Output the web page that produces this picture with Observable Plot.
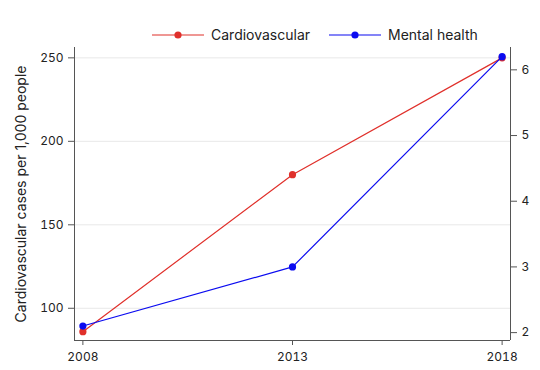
<!DOCTYPE html>
<html>
<head>
<meta charset="utf-8">
<script src="https://cdn.jsdelivr.net/npm/d3@7"></script>
<script src="https://cdn.jsdelivr.net/npm/@observablehq/plot@0.6"></script>
<style>
  html, body { margin: 0; padding: 0; background: white; }
  #wrap { position: relative; width: 540px; height: 370px; font-family: Inter, "DejaVu Sans", sans-serif; }
  #legend { position: absolute; left: 0; top: 0; width: 540px; height: 60px; }
  .item { position: absolute; top: 26px; height: 18px; display: flex; align-items: center; }
  .item span { font-size: 14px; color: #222; margin-left: 7px; line-height: 18px; }
</style>
</head>
<body>
<div id="wrap"><div id="legend"></div></div>
<script>
const years = [2008, 2013, 2018];
const cardio = [86, 180, 250];
const mental = [2.1, 3.0, 6.2];
const leftTicks = [100, 150, 200, 250];
const rightTicks = [2, 3, 4, 5, 6];
const seriesNames = ["Cardiovascular", "Mental health"];
const seriesColors = ["#e0302b", "#0b0bf0"];
const yLabel = "Cardiovascular cases per 1,000 people";

const leftDomain = [80.7, 256.2];
const rightDomain = [1.88, 6.34];
const xDomain = [2007.8, 2018.2];
const k = (leftDomain[1] - leftDomain[0]) / (rightDomain[1] - rightDomain[0]);
const toLeft = r => leftDomain[0] + (r - rightDomain[0]) * k;
const fromLeft = v => rightDomain[0] + (v - leftDomain[0]) / k;

const cardioData = years.map((y, i) => ({year: y, value: cardio[i]}));
const mentalData = years.map((y, i) => ({year: y, value: toLeft(mental[i])}));

const axisColor = "#555";

const chart = Plot.plot({
  width: 540,
  height: 370,
  marginTop: 47,
  marginBottom: 30,
  marginLeft: 74,
  marginRight: 30,
  style: {fontFamily: "Inter, sans-serif", fontSize: "12px", color: "#222", background: "transparent"},
  x: {domain: xDomain},
  y: {domain: leftDomain},
  marks: [
    Plot.gridY(leftTicks, {stroke: "#e8e8e8", strokeOpacity: 1}),
    Plot.ruleY([leftDomain[0]], {stroke: axisColor}),
    Plot.ruleX([xDomain[0]], {stroke: axisColor}),
    Plot.ruleX([xDomain[1]], {stroke: axisColor}),
    Plot.axisX(years, {anchor: "bottom", tickSize: 5, tickPadding: 7, stroke: axisColor, tickFormat: d => String(d), label: null}),
    Plot.axisY(leftTicks, {anchor: "left", tickSize: 6, tickPadding: 5, stroke: axisColor, label: yLabel, labelAnchor: "center", labelArrow: "none", labelOffset: 58}),
    Plot.axisY(rightTicks.map(toLeft), {anchor: "right", tickSize: 6, tickPadding: 5, stroke: axisColor, tickFormat: d => String(Math.round(fromLeft(d))), label: null}),
    Plot.line(cardioData, {x: "year", y: "value", stroke: seriesColors[0], strokeWidth: 1.2}),
    Plot.dot(cardioData, {x: "year", y: "value", fill: seriesColors[0], r: 3.6}),
    Plot.line(mentalData, {x: "year", y: "value", stroke: seriesColors[1], strokeWidth: 1.2}),
    Plot.dot(mentalData, {x: "year", y: "value", fill: seriesColors[1], r: 3.6})
  ]
});

chart.querySelectorAll("text").forEach(t => {
  if (t.textContent === yLabel) t.setAttribute("font-size", "14");
});

const wrap = document.getElementById("wrap");
wrap.insertBefore(chart, wrap.firstChild);

const legend = document.getElementById("legend");
const legendLeft = [152, 329];
seriesNames.forEach((name, i) => {
  const item = document.createElement("div");
  item.className = "item";
  item.style.left = legendLeft[i] + "px";
  item.innerHTML = `<svg width="52" height="18"><line x1="0" x2="52" y1="9" y2="9" stroke="${seriesColors[i]}" stroke-width="1.2"/><circle cx="26" cy="9" r="3.6" fill="${seriesColors[i]}"/></svg><span>${name}</span>`;
  legend.appendChild(item);
});
</script>
</body>
</html>
